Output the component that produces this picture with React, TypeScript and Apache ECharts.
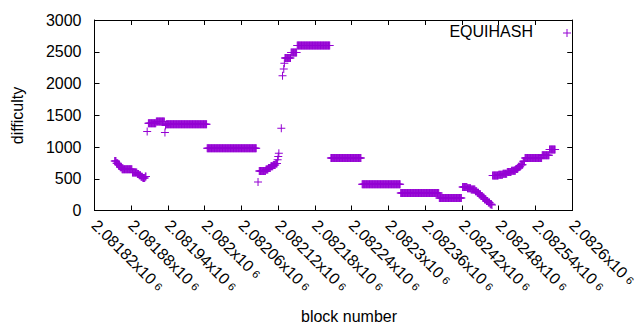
import React, { useEffect, useRef } from "react";
import * as echarts from "echarts";

// Runs of constant difficulty: [firstBlock[i], lastBlock[i]] -> difficulty[i]
const firstBlock = [
  2081853, 2081856, 2081859, 2081862, 2081865, 2081882, 2081890, 2081893, 2081896, 2081899,
  2081903, 2081906, 2081908, 2081921, 2081935, 2081936, 2081937, 2082004, 2082087, 2082089,
  2082100, 2082104, 2082108, 2082112, 2082116, 2082119, 2082120, 2082121, 2082125, 2082127,
  2082129, 2082130, 2082131, 2082141, 2082151, 2082206, 2082257, 2082320, 2082383, 2082421,
  2082429, 2082435, 2082442, 2082445, 2082448, 2082451, 2082454, 2082457, 2082460, 2082463,
  2082466, 2082469, 2082470, 2082480, 2082487, 2082494, 2082501, 2082508, 2082512, 2082516,
  2082520, 2082523, 2082551, 2082563,
];
const lastBlock = [
  2081855, 2081858, 2081861, 2081864, 2081881, 2081889, 2081892, 2081895, 2081898, 2081902,
  2081904, 2081906, 2081920, 2081934, 2081935, 2081936, 2082003, 2082084, 2082087, 2082099,
  2082103, 2082107, 2082111, 2082115, 2082118, 2082119, 2082120, 2082121, 2082125, 2082127,
  2082129, 2082130, 2082140, 2082150, 2082204, 2082255, 2082319, 2082382, 2082419, 2082428,
  2082434, 2082441, 2082444, 2082447, 2082450, 2082453, 2082456, 2082459, 2082462, 2082465,
  2082468, 2082469, 2082479, 2082486, 2082493, 2082500, 2082507, 2082511, 2082515, 2082519,
  2082522, 2082550, 2082562, 2082572,
];
const difficulty = [
  780, 745, 715, 680, 650, 600, 575, 555, 530, 512,
  535, 1243, 1373, 1402, 1227, 1340, 1360, 982, 447, 624,
  645, 670, 695, 715, 740, 800, 850, 900, 1296, 2124,
  2229, 2318, 2400, 2490, 2600, 825, 415, 275, 195, 370,
  350, 330, 305, 280, 255, 230, 200, 175, 150, 125,
  100, 85, 550, 562, 580, 605, 625, 655, 690, 720,
  775, 825, 870, 960,
];

const seriesName = "EQUIHASH";
const xMin = 2081820;
const xMax = 2082600;
const xStep = 60;
const yMin = 0;
const yMax = 3000;
const yStep = 500;

const COLOR = "#9400D3";
const FONT = "Liberation Sans";
const FS = 16;
const PLUS = "path://M0,3.5H8V4.5H0Z M3.5,0H4.5V8H3.5Z";

function buildPoints(): number[][] {
  const pts: number[][] = [];
  for (let i = 0; i < firstBlock.length; i++) {
    for (let b = firstBlock[i]; b <= lastBlock[i]; b++) pts.push([b, difficulty[i]]);
  }
  return pts;
}

export default function App() {
  const ref = useRef<HTMLDivElement>(null);
  useEffect(() => {
    if (!ref.current) return;
    const chart = echarts.init(ref.current, undefined, { renderer: "svg" });
    const gridL = 94.5;
    const gridR = 30.5;
    const gridT = 20;
    const gridB = 119.5;
    const tick = { show: true, inside: true, length: 5, lineStyle: { color: "#000", width: 1 } };
    const line = { show: true, onZero: false, lineStyle: { color: "#000", width: 1 } };
    chart.setOption({
      animation: false,
      textStyle: { fontFamily: FONT },
      grid: { left: gridL, right: gridR, top: gridT, bottom: gridB, containLabel: false },
      xAxis: [
        {
          type: "value",
          min: xMin,
          max: xMax,
          interval: xStep,
          axisLine: line,
          axisTick: tick,
          splitLine: { show: false },
          axisLabel: {
            rotate: -45,
            margin: 12,
            color: "#000",
            fontSize: FS,
            fontFamily: FONT,
            formatter: (v: number) => {
              const m = parseFloat((v / 1e6).toFixed(5)).toString();
              return `{m|${m}x10}{e|6}`;
            },
            rich: {
              m: { fontSize: FS, fontFamily: FONT, color: "#000" },
              e: { fontSize: 11, fontFamily: FONT, color: "#000", padding: [0, 0, 0, 4], verticalAlign: "middle" },
            },
          },
        },
        {
          type: "value",
          position: "top",
          min: xMin,
          max: xMax,
          interval: xStep,
          axisLine: line,
          axisTick: tick,
          splitLine: { show: false },
          axisLabel: { show: false },
        },
      ],
      yAxis: [
        {
          type: "value",
          min: yMin,
          max: yMax,
          interval: yStep,
          axisLine: line,
          axisTick: tick,
          splitLine: { show: false },
          axisLabel: {
            margin: 13,
            color: "#000",
            fontSize: FS,
            fontFamily: FONT,
            formatter: (v: number) => String(v),
          },
        },
        {
          type: "value",
          position: "right",
          min: yMin,
          max: yMax,
          interval: yStep,
          axisLine: line,
          axisTick: tick,
          splitLine: { show: false },
          axisLabel: { show: false },
        },
      ],
      series: [
        {
          name: seriesName,
          type: "scatter",
          xAxisIndex: 0,
          yAxisIndex: 0,
          symbol: PLUS,
          symbolSize: 8,
          itemStyle: { color: COLOR, opacity: 1 },
          emphasis: { disabled: true },
          data: buildPoints(),
        },
      ],
      graphic: [
        {
          type: "text",
          x: 17.5,
          y: 115.5,
          rotation: Math.PI / 2,
          style: {
            text: "difficulty",
            fontSize: FS,
            fontFamily: FONT,
            fill: "#000",
            align: "center",
            verticalAlign: "middle",
          },
        },
        {
          type: "text",
          x: 349,
          y: 316,
          style: {
            text: "block number",
            fontSize: FS,
            fontFamily: FONT,
            fill: "#000",
            align: "center",
            verticalAlign: "middle",
          },
        },
        {
          type: "text",
          x: 533,
          y: 31.5,
          style: {
            text: seriesName,
            fontSize: FS,
            fontFamily: FONT,
            fill: "#000",
            align: "right",
            verticalAlign: "middle",
          },
        },
        { type: "rect", shape: { x: 563, y: 32.5, width: 8, height: 1 }, style: { fill: COLOR } },
        { type: "rect", shape: { x: 566.5, y: 29, width: 1, height: 8 }, style: { fill: COLOR } },
      ],
    });
    return () => chart.dispose();
  }, []);
  return (
    <div
      ref={ref}
      style={{ position: "fixed", left: 0, top: 0, width: 640, height: 330, background: "#fff" }}
    />
  );
}
